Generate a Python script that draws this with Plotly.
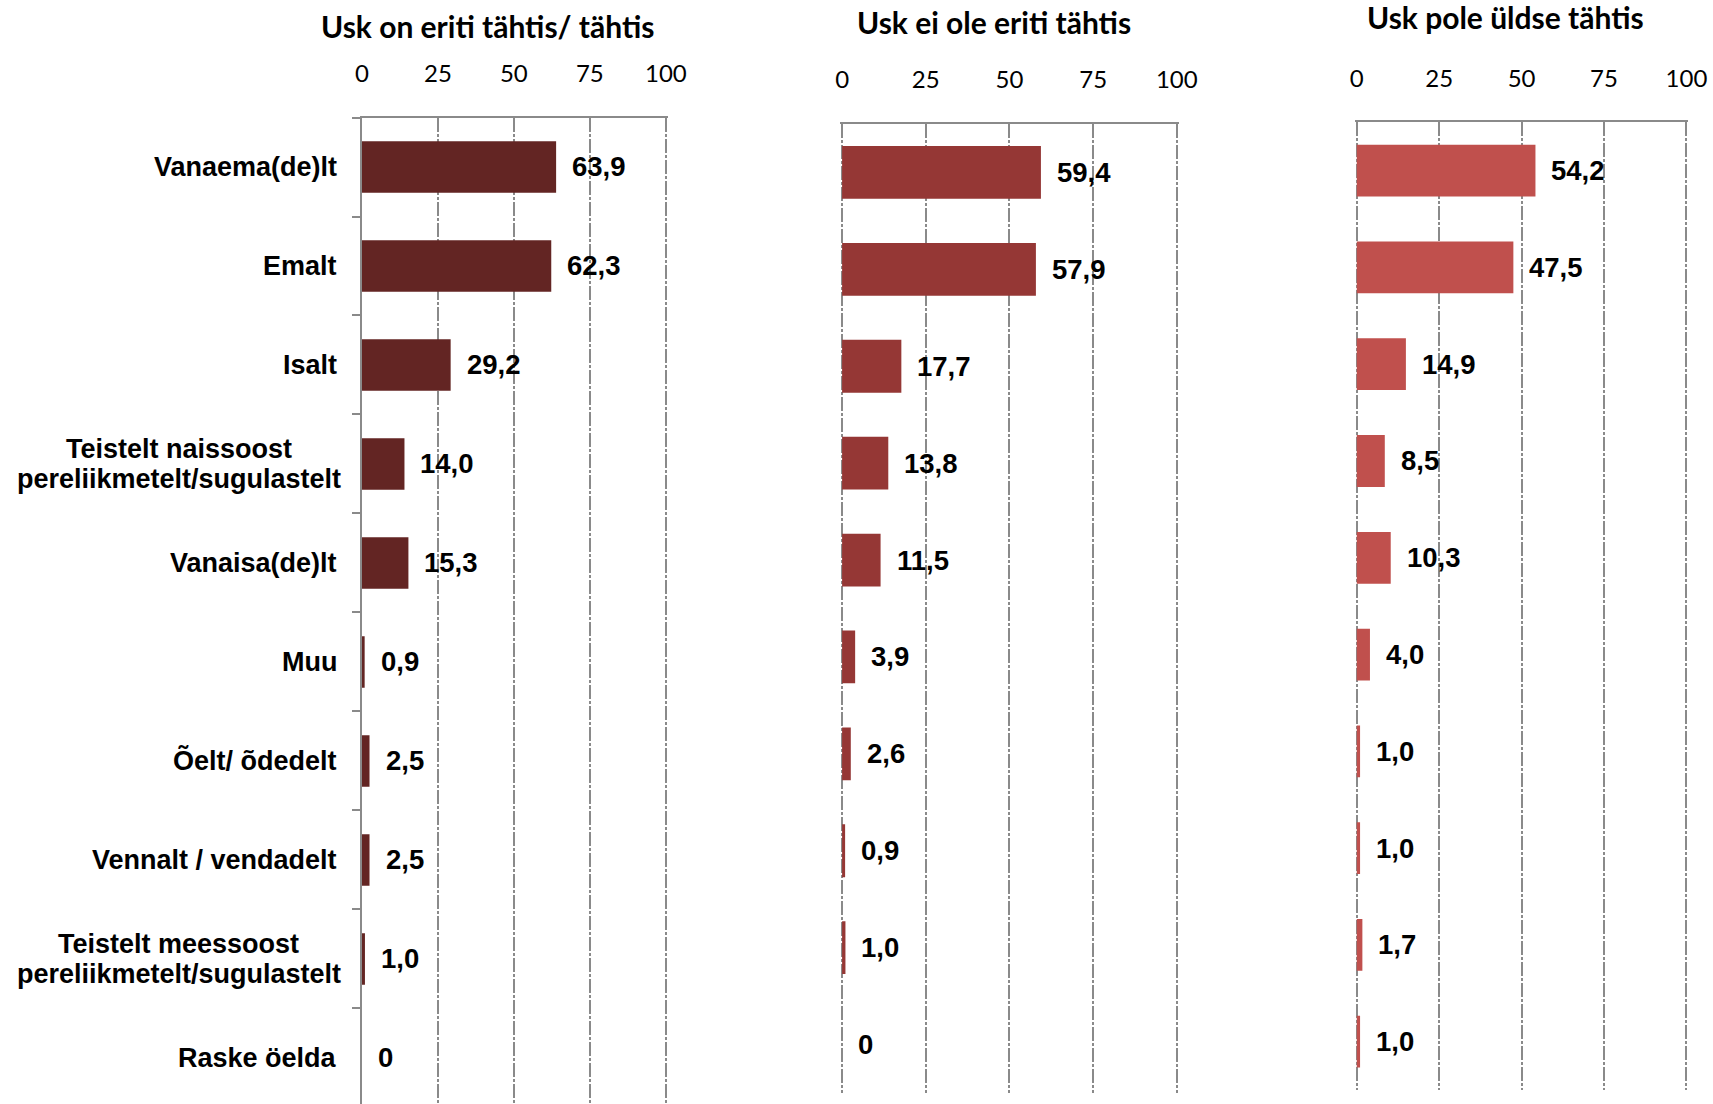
import plotly.graph_objects as go

categories = [
    "Vanaema(de)lt",
    "Emalt",
    "Isalt",
    "Teistelt naissoost<br>pereliikmetelt/sugulastelt",
    "Vanaisa(de)lt",
    "Muu",
    "Õelt/ õdedelt",
    "Vennalt / vendadelt",
    "Teistelt meessoost<br>pereliikmetelt/sugulastelt",
    "Raske öelda",
]

titles = ["Usk on eriti tähtis/ tähtis", "Usk ei ole eriti tähtis", "Usk pole üldse tähtis"]

values_tahtis = [63.9, 62.3, 29.2, 14.0, 15.3, 0.9, 2.5, 2.5, 1.0, 0]
values_ei_ole_eriti = [59.4, 57.9, 17.7, 13.8, 11.5, 3.9, 2.6, 0.9, 1.0, 0]
values_pole_uldse = [54.2, 47.5, 14.9, 8.5, 10.3, 4.0, 1.0, 1.0, 1.7, 1.0]

x_ticks = [0, 25, 50, 75, 100]

W, H = 1713, 1104          # target picture size (geometry below is in these pixels)
FIG_W = 1729               # layout width
series = [values_tahtis, values_ei_ole_eriti, values_pole_uldse]
colors = ["#632523", "#953735", "#C0504D"]
# pixel geometry: (x0, x100, ytop, ybottom, bar width, title cx, title cy)
geo = [
    (357, 662.7, 117.5, 1104, 0.52, 483.7, 26),
    (840, 1176.7, 124, 1093, 0.545, 993, 22),
    (1357.7, 1689.3, 122.3, 1090, 0.535, 1507.5, 17),
]

GRID = "#8a8a8a"
TITLE_FONT = dict(family="Lato", size=30, color="black", weight="bold")
TICK_FONT = dict(family="Lato", size=24, color="black")
CAT_FONT = dict(family="Liberation Sans", size=27, color="black", weight="bold")
VAL_FONT = dict(family="Liberation Sans", size=27.5, color="black", weight="bold")


def fmt(v):
    return "0" if v == 0 else f"{v:.1f}".replace(".", ",")


fig = go.Figure()
annotations = []
for i, (vals, col, g) in enumerate(zip(series, colors, geo)):
    x0, x100, ytop, ybot, bw, tcx, tcy = g
    n = i + 1
    xa = "x" if n == 1 else f"x{n}"
    ya = "y" if n == 1 else f"y{n}"
    fig.add_trace(go.Bar(
        x=vals, y=categories, orientation="h", marker_color=col,
        marker_line_width=0, width=bw, xaxis=xa, yaxis=ya, showlegend=False,
        hoverinfo="skip",
    ))
    s = (x100 - x0) / 100.0
    lo = 0 if n == 1 else -0.6
    hi = 100.6
    band = (1104 - 117.5) / 9.965 if n == 1 else (ybot - ytop) / 10
    nb = (ybot - ytop) / band
    yrange = [-0.5 + nb, -0.5]
    xkey = "xaxis" if n == 1 else f"xaxis{n}"
    ykey = "yaxis" if n == 1 else f"yaxis{n}"
    fig.layout[xkey] = dict(
        domain=[(x0 + lo * s) / W, (x0 + hi * s) / W], range=[lo, hi], anchor=ya,
        side="top", tickvals=x_ticks, ticktext=[str(t) for t in x_ticks],
        tickfont=TICK_FONT, showgrid=True, gridcolor=GRID, gridwidth=2,
        griddash="14px,2px,3px,2px", showline=True, linecolor=GRID, linewidth=2,
        ticks="", zeroline=False, ticklabelstandoff=24, fixedrange=True,
    )
    fig.layout[ykey] = dict(
        domain=[(H - ybot) / H, (H - ytop) / H], anchor=xa, type="category",
        categoryorder="array", categoryarray=categories, range=yrange,
        showticklabels=False, showgrid=False, zeroline=False,
        showline=(n == 1), linecolor=GRID, linewidth=2,
        ticks="outside" if n == 1 else "", ticklen=8, tickwidth=2, tickcolor=GRID,
        tickson="boundaries", fixedrange=True,
    )
    annotations.append(dict(
        text=titles[i], xref="paper", yref="paper", x=tcx / W, y=(H - tcy) / H,
        xanchor="center", yanchor="middle", showarrow=False, font=TITLE_FONT,
    ))
    for c, v in zip(categories, vals):
        annotations.append(dict(
            text=fmt(v), xref=xa, yref=ya, x=v, y=c, xanchor="left", yanchor="middle",
            xshift=14, showarrow=False, font=VAL_FONT,
        ))

# category labels: single-line right aligned, two-line blocks centred
LABEL_RIGHT = 334
TWO_LINE_CENTER = 173
LINE_GAP = 29.5
for c in categories:
    parts = c.split("<br>")
    if len(parts) == 1:
        annotations.append(dict(
            text=c, xref="paper", yref="y", x=LABEL_RIGHT / W, y=c, xanchor="right",
            yanchor="middle", showarrow=False, font=CAT_FONT,
        ))
    else:
        for k, p in enumerate(parts):
            annotations.append(dict(
                text=p, xref="paper", yref="y", x=TWO_LINE_CENTER / W, y=c,
                xanchor="center", yanchor="middle", showarrow=False, font=CAT_FONT,
                yshift=(len(parts) - 1) / 2 * LINE_GAP - k * LINE_GAP,
            ))

fig.update_layout(
    width=FIG_W, height=H, autosize=False, margin=dict(l=0, r=0, t=0, b=0, pad=0),
    paper_bgcolor="white", plot_bgcolor="white", annotations=annotations,
    bargap=0.48,
)
fig.write_html(
    "out.html",
    config={"responsive": False, "displayModeBar": False},
    post_script="document.body.style.margin='0';document.body.style.overflow='hidden';",
)
